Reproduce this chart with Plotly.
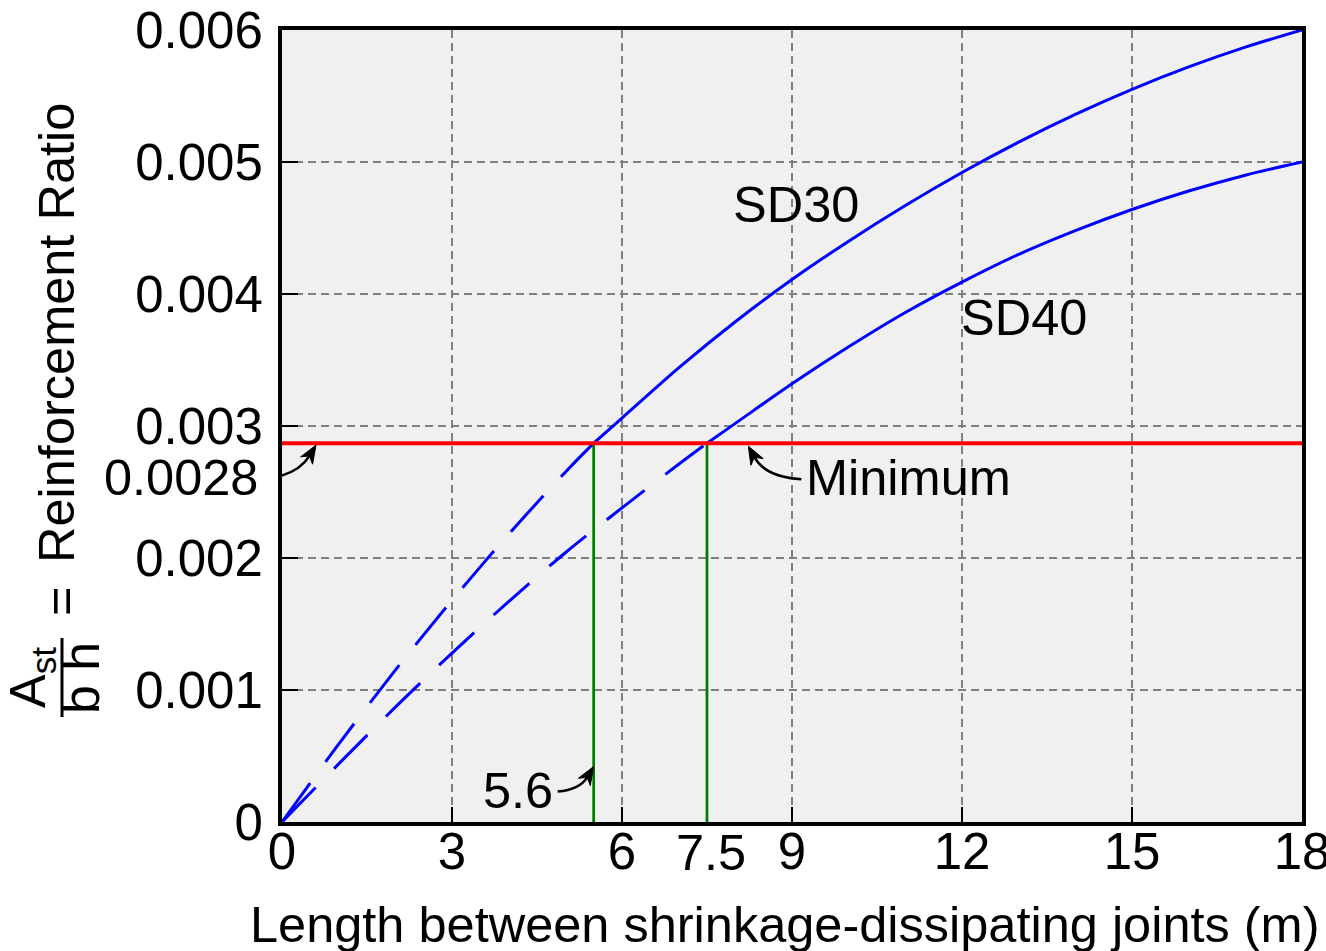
import plotly.graph_objects as go

# ---------------- data ----------------
sd30_length = [0, 1, 2, 3, 4, 5, 5.5, 6, 7, 8, 9, 10, 11, 12, 13, 14, 15, 16, 17, 18]
sd30_ratio = [0, 0.00059, 0.00115, 0.00168, 0.00218, 0.00265, 0.00287, 0.00306, 0.00344,
              0.00379, 0.00411, 0.00440, 0.00467, 0.00492, 0.00515, 0.00536, 0.00555,
              0.00572, 0.00587, 0.00600]
sd40_length = [0, 1, 2, 3, 4, 5, 6, 7, 7.5, 8, 9, 10, 11, 12, 13, 14, 15, 16, 17, 18]
sd40_ratio = [0, 0.00044, 0.00087, 0.00128, 0.00167, 0.00204, 0.00238, 0.00271, 0.00287,
              0.00302, 0.00332, 0.00360, 0.00386, 0.00409, 0.00430, 0.00448, 0.00464,
              0.00478, 0.00490, 0.00500]
min_ratio = 0.00287
sd30_cross = 5.5
sd40_cross = 7.5
x_ticks = [0, 3, 6, 9, 12, 15, 18]
y_ticks = [0, 0.001, 0.002, 0.003, 0.004, 0.005, 0.006]
y_ticktext = ["0", "0.001", "0.002", "0.003", "0.004", "0.005", "0.006"]

# ---------------- layout geometry ----------------
W, H = 1326, 951
ML, MR, MT, MB = 282, 24, 30, 129
PW, PH = W - ML - MR, H - MT - MB
X_RANGE = [0, 18]
Y_RANGE = [0, 0.006]
PX_X = PW / (X_RANGE[1] - X_RANGE[0])
PX_Y = PH / (Y_RANGE[1] - Y_RANGE[0])
FONT = "Liberation Sans, Arial, Helvetica, sans-serif"
FS = 50.5


def px_paper_x(px):
    return (px - ML) / PW


def px_paper_y(py):
    return (H - MB - py) / PH


def off(x0, y0, dx, dy):
    """data point shifted by pixel offsets"""
    return x0 + dx / PX_X, y0 - dy / PX_Y


fig = go.Figure()


def split(xs, ys, cross):
    a = [(x, y) for x, y in zip(xs, ys) if x <= cross]
    b = [(x, y) for x, y in zip(xs, ys) if x >= cross]
    return a, b


BLUE = "#0000ff"
for xs, ys, cr in [(sd30_length, sd30_ratio, sd30_cross), (sd40_length, sd40_ratio, sd40_cross)]:
    a, b = split(xs, ys, cr)
    fig.add_trace(go.Scatter(x=[p[0] for p in a], y=[p[1] for p in a], mode="lines",
                             line=dict(color=BLUE, width=3, dash="48px,26px", shape="spline", smoothing=0.8),
                             showlegend=False, hoverinfo="skip"))
    fig.add_trace(go.Scatter(x=[p[0] for p in b], y=[p[1] for p in b], mode="lines",
                             line=dict(color=BLUE, width=3, shape="spline", smoothing=0.8),
                             showlegend=False, hoverinfo="skip"))

# green verticals
for cr in [sd30_cross, sd40_cross]:
    fig.add_trace(go.Scatter(x=[cr, cr], y=[0, min_ratio], mode="lines",
                             line=dict(color="#007a00", width=2.7),
                             showlegend=False, hoverinfo="skip"))

# red minimum
fig.add_trace(go.Scatter(x=X_RANGE, y=[min_ratio, min_ratio], mode="lines",
                         line=dict(color="#ff0000", width=4),
                         showlegend=False, hoverinfo="skip"))

shapes = []
annotations = []


def curved_arrow(tip_x, tip_y, tip_dy, tail, ctrl):
    tx, ty = off(tip_x, tip_y, 0, tip_dy)
    sx, sy = off(tx, ty, tail[0], tail[1])
    cx, cy = off(tx, ty, ctrl[0], ctrl[1])
    dxp, dyp = -ctrl[0], -ctrl[1]
    n = (dxp ** 2 + dyp ** 2) ** 0.5
    ux, uy = dxp / n, dyp / n
    L, hw = 18, 7
    bx, by = -ux * L, -uy * L
    px_, py_ = -uy, ux
    b1 = off(tx, ty, bx + px_ * hw, by + py_ * hw)
    b2 = off(tx, ty, bx - px_ * hw, by - py_ * hw)
    bm = off(tx, ty, bx * 0.7, by * 0.7)
    shapes.append(dict(type="path", xref="x", yref="y",
                       path=f"M {sx},{sy} Q {cx},{cy} {bm[0]},{bm[1]}",
                       line=dict(color="black", width=2.5)))
    shapes.append(dict(type="path", xref="x", yref="y",
                       path=f"M {tx},{ty} L {b1[0]},{b1[1]} L {bm[0]},{bm[1]} L {b2[0]},{b2[1]} Z",
                       fillcolor="black", line=dict(color="black", width=1)))


curved_arrow(0.6, min_ratio, 2, (-54, 34), (-19, 31))
curved_arrow(8.23, min_ratio, 3, (53, 33), (17, 31))
curved_arrow(sd30_cross, 0.00042, 0, (-36, 25), (-14, 23))

txt = dict(family=FONT, size=FS, color="black")


def ann(x, y, text, xref="x", yref="y", **kw):
    d = dict(x=x, y=y, xref=xref, yref=yref, text=text, showarrow=False, font=txt,
             xanchor="center", yanchor="middle")
    d.update(kw)
    return d


annotations += [
    ann(9.07, 0.00468, "SD30"),
    ann(13.09, 0.00382, "SD40"),
    ann(9.22, 0.00261, "Minimum", xanchor="left"),
    ann(4.16, 0.000235, "5.6"),
    ann(px_paper_x(260), 0.00261, "0.0028", xref="paper", xanchor="right"),
    ann(sd40_cross, px_paper_y(852), "7.5", yref="paper", xshift=4),
    # axis titles
    ann(px_paper_x(785), px_paper_y(925), "Length between shrinkage-dissipating joints (m)",
        xref="paper", yref="paper"),
    ann(px_paper_x(56), px_paper_y(333), "Reinforcement Ratio", xref="paper", yref="paper",
        textangle=-90),
    ann(px_paper_x(60), px_paper_y(601), "=", xref="paper", yref="paper", textangle=-90),
    ann(px_paper_x(31), px_paper_y(678), "A<sub>st</sub>", xref="paper", yref="paper",
        textangle=-90),
    ann(px_paper_x(81), px_paper_y(678), "b h", xref="paper", yref="paper", textangle=-90,
        font=dict(family=FONT, size=52, color="black")),
]
shapes.append(dict(type="line", xref="paper", yref="paper",
                   x0=px_paper_x(62), x1=px_paper_x(62), y0=px_paper_y(638), y1=px_paper_y(717),
                   line=dict(color="black", width=3)))

fig.update_layout(
    width=W, height=H,
    margin=dict(l=ML, r=MR, t=MT, b=MB, pad=0, autoexpand=False),
    paper_bgcolor="white", plot_bgcolor="#f0f0f0",
    font=txt,
    shapes=shapes, annotations=annotations,
    showlegend=False,
)
tickfont = dict(family=FONT, size=51, color="black")
axis_common = dict(showline=True, linecolor="black", linewidth=4, mirror=True,
                   showgrid=True, gridcolor="#808080", gridwidth=2, griddash="8px,5px",
                   zeroline=False, ticks="inside", tickcolor="black", tickwidth=2,
                   tickfont=tickfont, ticklabeloverflow="allow", automargin=False)
fig.update_xaxes(range=X_RANGE, tickvals=x_ticks, ticktext=[str(v) for v in x_ticks],
                 ticklen=15, ticklabelstandoff=-18, **axis_common)
fig.update_yaxes(range=Y_RANGE, tickvals=y_ticks, ticktext=y_ticktext, ticklen=16,
                 ticklabelstandoff=5, **axis_common)

fig.write_html("out.html", config={"displayModeBar": False},
               post_script="document.body.style.margin='0px';document.body.style.overflow='hidden';")
